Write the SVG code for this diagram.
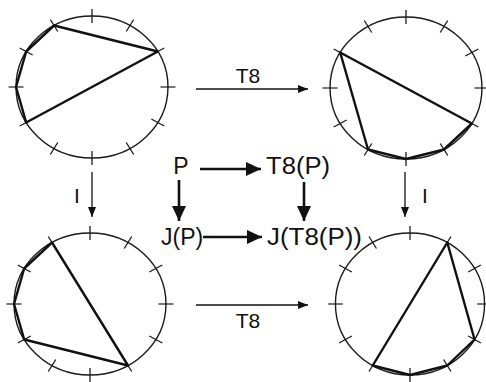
<svg xmlns="http://www.w3.org/2000/svg" xmlns:xlink="http://www.w3.org/1999/xlink" width="486" height="382" viewBox="0 0 486 382">
<style>
.ring{fill:none;stroke:#1a1a1a;stroke-width:1.4;vector-effect:non-scaling-stroke}
.tick{stroke:#1a1a1a;stroke-width:1.2;vector-effect:non-scaling-stroke}
.poly{fill:none;stroke:#111;stroke-width:2.4;stroke-linejoin:round;vector-effect:non-scaling-stroke}
.thin{stroke:#111;stroke-width:1.3;fill:none}
.bold{stroke:#111;stroke-width:2.6;fill:none}
.lbl{font-family:"Liberation Sans",Arial,sans-serif;font-size:21px;fill:#111}
.ctr{font-family:"Liberation Sans",Arial,sans-serif;font-size:23px;fill:#111}
</style>
<defs>
<marker id="ah" viewBox="0 0 10 8" refX="10" refY="4" markerWidth="10" markerHeight="8" markerUnits="userSpaceOnUse" orient="auto"><path d="M0,0L10,4L0,8z" fill="#111"/></marker>
<marker id="ahb" viewBox="0 0 15 14" refX="15" refY="7" markerWidth="15" markerHeight="14" markerUnits="userSpaceOnUse" orient="auto"><path d="M0,0L15,7L0,14z" fill="#111"/></marker>
<g id="dial">
<circle class="ring" r="71"/>
<g class="tick">
<line x1="0" y1="-64" x2="0" y2="-78"/>
<line x1="0" y1="-64" x2="0" y2="-78" transform="rotate(30)"/>
<line x1="0" y1="-64" x2="0" y2="-78" transform="rotate(60)"/>
<line x1="0" y1="-64" x2="0" y2="-78" transform="rotate(90)"/>
<line x1="0" y1="-64" x2="0" y2="-78" transform="rotate(120)"/>
<line x1="0" y1="-64" x2="0" y2="-78" transform="rotate(150)"/>
<line x1="0" y1="-64" x2="0" y2="-78" transform="rotate(180)"/>
<line x1="0" y1="-64" x2="0" y2="-78" transform="rotate(210)"/>
<line x1="0" y1="-64" x2="0" y2="-78" transform="rotate(240)"/>
<line x1="0" y1="-64" x2="0" y2="-78" transform="rotate(270)"/>
<line x1="0" y1="-64" x2="0" y2="-78" transform="rotate(300)"/>
<line x1="0" y1="-64" x2="0" y2="-78" transform="rotate(330)"/>
</g>
</g>
</defs>
<rect width="486" height="382" fill="#fff"/>

<g id="circle-P" transform="translate(92,87) scale(1.07,1)">
<use xlink:href="#dial"/>
<polygon class="poly" points="-35.5,-61.5 61.5,-35.5 -61.5,35.5 -71,0 -61.5,-35.5"/>
</g>
<g id="circle-T8P" transform="translate(406,88) scale(1.07,1)">
<use xlink:href="#dial"/>
<polygon class="poly" points="-61.5,-35.5 61.5,35.5 35.5,61.5 0,71 -35.5,61.5"/>
</g>
<g id="circle-JP" transform="translate(90,304) scale(1.07,1)">
<use xlink:href="#dial"/>
<polygon class="poly" points="-35.5,-61.5 35.5,61.5 -61.5,35.5 -71,0 -61.5,-35.5"/>
</g>
<g id="circle-JT8P" transform="translate(410,304) scale(1.05,1)">
<use xlink:href="#dial"/>
<polygon class="poly" points="35.5,-61.5 -35.5,61.5 0,71 35.5,61.5 61.5,35.5"/>
</g>

<g id="connectors">
<line class="thin" x1="196" y1="89" x2="308" y2="89" marker-end="url(#ah)"/>
<line class="thin" x1="196" y1="305" x2="308" y2="305" marker-end="url(#ah)"/>
<line class="thin" x1="92" y1="172" x2="92" y2="217" marker-end="url(#ah)"/>
<line class="thin" x1="405" y1="172" x2="405" y2="217" marker-end="url(#ah)"/>
<line class="bold" x1="200" y1="169" x2="261" y2="169" marker-end="url(#ahb)"/>
<line class="bold" x1="203" y1="237" x2="262" y2="237" marker-end="url(#ahb)"/>
<line class="bold" x1="179" y1="180" x2="179" y2="221" marker-end="url(#ahb)"/>
<line class="bold" x1="304" y1="182" x2="304" y2="221" marker-end="url(#ahb)"/>
</g>

<g id="labels">
<text class="lbl" x="248" y="83" text-anchor="middle">T8</text>
<text class="lbl" x="248" y="328" text-anchor="middle">T8</text>
<text class="lbl" x="77" y="203" text-anchor="middle">I</text>
<text class="lbl" x="425" y="203" text-anchor="middle">I</text>
</g>
<g id="node-P"><text class="ctr" x="181" y="174" text-anchor="middle">P</text></g>
<g id="node-T8P"><text class="ctr" x="266" y="174" textLength="64" lengthAdjust="spacingAndGlyphs">T8(P)</text></g>
<g id="node-JP"><text class="ctr" x="161" y="245">J(P)</text></g>
<g id="node-JT8P"><text class="ctr" x="267" y="245" textLength="95" lengthAdjust="spacingAndGlyphs">J(T8(P))</text></g>
</svg>
